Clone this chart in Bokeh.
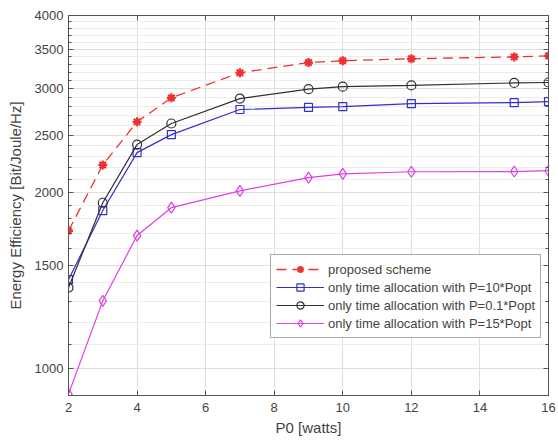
from bokeh.plotting import figure
from bokeh.models import (Range1d, FixedTicker, BasicTickFormatter, LinearAxis, LogAxis,
                          CustomJSTickFormatter, Legend, LegendItem)
from bokeh.embed import file_html
from bokeh.resources import INLINE

# ---- data ----
p0 = [2, 3, 4, 5, 7, 9, 10, 12, 15, 16]
proposed = [1718, 2225, 2635, 2895, 3195, 3325, 3350, 3375, 3400, 3415]
p10 = [1418, 1860, 2335, 2506, 2766, 2788, 2798, 2830, 2841, 2852]
p01 = [1374, 1918, 2410, 2618, 2886, 2995, 3025, 3040, 3070, 3075]
p15 = [905, 1305, 1686, 1881, 2010, 2117, 2148, 2166, 2168, 2175]

x_ticks = [2, 4, 6, 8, 10, 12, 14, 16]
y_ticks = [1000, 1500, 2000, 2500, 3000, 3500, 4000]
y_minor = list(range(900, 4001, 100))

names = ["proposed scheme",
         "only time allocation with P=10*Popt",
         "only time allocation with P=0.1*Popt",
         "only time allocation with P=15*Popt"]

FONT = "Liberation Sans"
AX = "#555555"
TXT = "#444444"

p = figure(width=558, height=446, y_axis_type="log",
           x_range=Range1d(2, 16), y_range=Range1d(900, 4000),
           output_backend="svg", toolbar_location=None,
           min_border_left=68, min_border_right=10, min_border_top=15, min_border_bottom=51)
p.background_fill_color = "white"
p.border_fill_color = "white"
p.outline_line_color = AX
p.outline_line_width = 1

# axes
p.xaxis.ticker = FixedTicker(ticks=x_ticks)
p.yaxis.ticker = FixedTicker(ticks=y_ticks, minor_ticks=y_minor)
p.yaxis.formatter = BasicTickFormatter(use_scientific=False)
for ax in (p.xaxis[0], p.yaxis[0]):
    ax.axis_line_color = AX
    ax.major_tick_line_color = AX
    ax.minor_tick_line_color = AX
    ax.major_tick_in = 5
    ax.major_tick_out = 0
    ax.minor_tick_in = 3
    ax.minor_tick_out = 0
    ax.major_label_text_font = FONT
    ax.major_label_text_font_size = "13px"
    ax.major_label_text_color = TXT
    ax.axis_label_text_font = FONT
    ax.axis_label_text_font_size = "15px"
    ax.axis_label_text_font_style = "normal"
    ax.axis_label_text_color = TXT
p.xaxis.minor_tick_line_color = None
p.xaxis.major_label_standoff = 7
p.yaxis.major_label_standoff = 5
p.xaxis.axis_label = "P0 [watts]"
p.yaxis.axis_label = "Energy Efficiency [Bit/Joule/Hz]"
p.xaxis.axis_label_standoff = 4
p.yaxis.axis_label_standoff = 8

# top / right tick-only axes (box on)
blank = CustomJSTickFormatter(code="return ''")
top = LinearAxis(ticker=FixedTicker(ticks=x_ticks), formatter=blank,
                 major_tick_in=5, major_tick_out=0, minor_tick_line_color=None,
                 axis_line_color=AX, major_tick_line_color=AX,
                 major_label_standoff=0, major_label_text_font_size="1px")
right = LogAxis(ticker=FixedTicker(ticks=y_ticks, minor_ticks=y_minor), formatter=blank,
                major_tick_in=5, major_tick_out=0, minor_tick_in=3, minor_tick_out=0,
                axis_line_color=AX, major_tick_line_color=AX, minor_tick_line_color=AX,
                major_label_standoff=0, major_label_text_font_size="1px")
p.add_layout(top, "above")
p.add_layout(right, "right")

# grid
p.xgrid.grid_line_color = "#dedede"
p.ygrid.grid_line_color = "#dedede"
p.ygrid.minor_grid_line_color = "#ececec"

# series
red, blue, black, mag = "#f03030", "#3030d0", "#303030", "#e040e0"

r1l = p.line(p0, proposed, line_color=red, line_width=1.3, line_dash="10 6")
r1m = p.scatter(p0, proposed, marker="asterisk", size=9, line_color=red, line_width=2.2)

r2l = p.line(p0, p10, line_color=blue, line_width=1.2)
r2m = p.scatter(p0, p10, marker="square", size=8, line_color=blue, fill_color=None, line_width=1.2)

r3l = p.line(p0, p01, line_color=black, line_width=1.2)
r3m = p.scatter(p0, p01, marker="circle", size=9, line_color=black, fill_color=None, line_width=1.2)

r4l = p.line(p0, p15, line_color=mag, line_width=1.2)
r4m = p.scatter(p0, p15, marker="diamond", size=11, line_color=mag, fill_color=None, line_width=1.2)

legend = Legend(items=[
    LegendItem(label=names[0], renderers=[r1l, r1m]),
    LegendItem(label=names[1], renderers=[r2l, r2m]),
    LegendItem(label=names[2], renderers=[r3l, r3m]),
    LegendItem(label=names[3], renderers=[r4l, r4m]),
], location=(202, 57))
legend.label_text_font = FONT
legend.label_text_font_size = "13px"
legend.label_text_color = TXT
legend.glyph_width = 48
legend.glyph_height = 18
legend.label_height = 18
legend.label_standoff = 4
legend.spacing = 0
legend.padding = 5
legend.margin = 0
legend.border_line_color = AX
legend.border_line_width = 1
legend.background_fill_color = "white"
legend.background_fill_alpha = 1
p.add_layout(legend, "center")

open("out.html", "w").write(file_html(p, INLINE))
